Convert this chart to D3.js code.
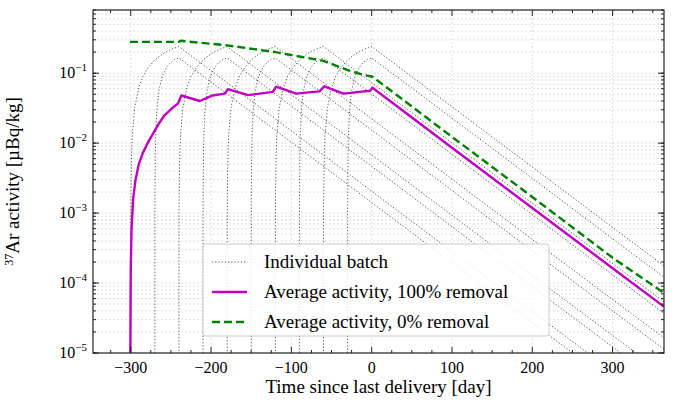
<!DOCTYPE html>
<html><head><meta charset="utf-8">
<script src="https://cdn.jsdelivr.net/npm/d3@7"></script>
<style>body{margin:0;background:#fff}svg text{font-family:"Liberation Serif","Times New Roman",serif}</style>
</head><body><svg id="c" width="678" height="406"></svg>
<script>
// ---- data ----
const xTicks = [-300,-200,-100,0,100,200,300];
const yTicks = [1e-5,1e-4,1e-3,1e-2,1e-1];
const yTickExp = ["5","4","3","2","1"];
// individual batches: exposure start, delivery day, peak activity
const batchStart    = [-300,-270,-240,-210,-180,-150,-120,-90,-60,-30];
const batchDelivery = [-240,-240,-180,-180,-120,-120,-60,-60,0,0];
const batchPeak     = [0.24,0.165,0.24,0.165,0.24,0.165,0.24,0.165,0.24,0.165];
// rise profile (fraction of exposure time elapsed, fraction of peak)
const riseFrac = [0,0.002,0.004,0.017,0.033,0.083,0.167,0.25,0.333,0.5,0.667,0.75,0.833,1];
const riseVal60 = [1e-6,0.0035,0.007,0.028,0.056,0.135,0.26,0.37,0.47,0.645,0.79,0.85,0.91,1];
const riseVal30 = [1e-6,0.0045,0.009,0.037,0.075,0.18,0.335,0.46,0.57,0.745,0.87,0.91,0.955,1];
// decay profile (days after delivery, fraction of peak)
const decayDay = [0,100,200,300,400,500,620];
const decayVal = [1,0.138,0.019,0.0026,0.00036,0.00005,0.0000046];
// average activity, 100% removal
const magX = [-300.5,-300,-299,-297,-294,-290,-285,-280,-276,-272,-265,-258,-248,-241,-237,-214,-198,-183,-179,-154,-123,-119,-94,-65,-59,-35,-2,1,100,200,300,364];
const magY = [1e-5,1.5e-4,6e-4,1.6e-3,3e-3,5e-3,7.2e-3,0.0095,0.0115,0.0138,0.019,0.025,0.032,0.037,0.048,0.040,0.048,0.051,0.059,0.0485,0.054,0.064,0.051,0.055,0.065,0.051,0.056,0.062,0.0086,0.00118,0.000163,4.6e-5];
// average activity, 0% removal
const grnX = [-301,-240,-238,-180,-120,-60,-29,-10,1,100,200,300,364];
const grnY = [0.28,0.28,0.29,0.25,0.20,0.15,0.11,0.094,0.089,0.0123,0.0017,0.00023,7.2e-5];

const svg = d3.select("#c");
const m = {l:93,r:664,t:10,b:353};
const x = d3.scaleLinear().domain([-347,364]).range([m.l,m.r]);
const y = d3.scaleLog().domain([1e-5,0.8]).range([m.b,m.t]);
svg.append("defs").append("clipPath").attr("id","cp").append("rect")
  .attr("x",m.l).attr("y",m.t).attr("width",m.r-m.l).attr("height",m.b-m.t);

const minorY=[]; for(let e=-5;e<0;e++) for(let k=1;k<10;k++) { const v=k*Math.pow(10,e); if(v<=0.8) minorY.push(v);} 
const g = svg.append("g");
g.selectAll(".gy").data(minorY).join("line").attr("x1",m.l).attr("x2",m.r)
 .attr("y1",d=>y(d)).attr("y2",d=>y(d)).attr("stroke","#d8d8d8").attr("stroke-width",0.8).attr("stroke-dasharray","2,2");
g.selectAll(".gx").data(xTicks).join("line").attr("y1",m.t).attr("y2",m.b)
 .attr("x1",d=>x(d)).attr("x2",d=>x(d)).attr("stroke","#d8d8d8").attr("stroke-width",0.8).attr("stroke-dasharray","2,2");

const line = d3.line().x(d=>x(d[0])).y(d=>y(Math.max(d[1],1e-8)));
const smooth = d3.line().curve(d3.curveMonotoneX).x(d=>x(d[0])).y(d=>y(Math.max(d[1],1e-8)));
const plot = svg.append("g").attr("clip-path","url(#cp)");
batchStart.forEach((s,i)=>{
  const d=batchDelivery[i], dur=d-s, rv = dur>=60?riseVal60:riseVal30, p=batchPeak[i];
  const pts = riseFrac.map((f,j)=>[s+f*dur, p*rv[j]]).concat(decayDay.slice(1).map((t,j)=>[d+t,p*decayVal[j+1]]));
  plot.append("path").attr("d",line(pts)).attr("fill","none").attr("stroke","#555").attr("stroke-width",1).attr("stroke-dasharray","1.2,2");
});
plot.append("path").attr("d",line(magX.map((v,i)=>[v,magY[i]]))).attr("fill","none").attr("stroke","#c000c0").attr("stroke-width",2.4).attr("stroke-linejoin","round");
plot.append("path").attr("d",line(grnX.map((v,i)=>[v,grnY[i]]))).attr("fill","none").attr("stroke","#008000").attr("stroke-width",2.4).attr("stroke-dasharray","8,4");

svg.append("rect").attr("x",m.l).attr("y",m.t).attr("width",m.r-m.l).attr("height",m.b-m.t).attr("fill","none").attr("stroke","#222").attr("stroke-width",1.2);
const ax = svg.append("g").attr("stroke","#222");
const xMinor = d3.range(-325,364,25).filter(v=>v%100!==0);
xTicks.forEach(v=>{ax.append("line").attr("x1",x(v)).attr("x2",x(v)).attr("y1",m.b).attr("y2",m.b-6);ax.append("line").attr("x1",x(v)).attr("x2",x(v)).attr("y1",m.t).attr("y2",m.t+6);});
xMinor.forEach(v=>{ax.append("line").attr("x1",x(v)).attr("x2",x(v)).attr("y1",m.b).attr("y2",m.b-3);ax.append("line").attr("x1",x(v)).attr("x2",x(v)).attr("y1",m.t).attr("y2",m.t+3);});
yTicks.forEach(v=>{ax.append("line").attr("y1",y(v)).attr("y2",y(v)).attr("x1",m.l).attr("x2",m.l+6);ax.append("line").attr("y1",y(v)).attr("y2",y(v)).attr("x1",m.r).attr("x2",m.r-6);});
minorY.forEach(v=>{ax.append("line").attr("y1",y(v)).attr("y2",y(v)).attr("x1",m.l).attr("x2",m.l+3);ax.append("line").attr("y1",y(v)).attr("y2",y(v)).attr("x1",m.r).attr("x2",m.r-3);});
svg.selectAll(".xl").data(xTicks).join("text").attr("x",d=>x(d)).attr("y",m.b+20).attr("text-anchor","middle")
 .attr("font-size",16).text(d=>d<0?"\u2212"+(-d):d);
yTicks.forEach((v,i)=>{
  const t=svg.append("text").attr("x",m.l-6).attr("y",y(v)+5).attr("text-anchor","end").attr("font-size",16);
  t.append("tspan").text("10");
  t.append("tspan").attr("dy",-7).attr("font-size",11).text("\u2212"+yTickExp[i]);
});
svg.append("text").attr("x",(m.l+m.r)/2).attr("y",393).attr("text-anchor","middle").attr("font-size",19).text("Time since last delivery [day]");
const yl=svg.append("text").attr("transform",`translate(19,${(m.t+m.b)/2}) rotate(-90)`).attr("text-anchor","middle").attr("font-size",19);
yl.append("tspan").attr("font-size",12).attr("dy",-6).text("37");
yl.append("tspan").attr("dy",6).text("Ar activity [\u00b5Bq/kg]");

const L = svg.append("g");
L.append("rect").attr("x",203).attr("y",244).attr("width",346).attr("height",92).attr("rx",3).attr("fill","rgba(255,255,255,0.85)").attr("stroke","#ccc");
const items=[["Individual batch","#555",1,"1.2,2"],["Average activity, 100% removal","#c000c0",2.4,null],["Average activity, 0% removal","#008000",2.4,"8,4"]];
items.forEach((it,i)=>{const yy=262+i*30;
  L.append("line").attr("x1",212).attr("x2",247).attr("y1",yy).attr("y2",yy).attr("stroke",it[1]).attr("stroke-width",it[2]).attr("stroke-dasharray",it[3]);
  L.append("text").attr("x",264).attr("y",yy+6).attr("font-size",19).text(it[0]);});
</script></body></html>
